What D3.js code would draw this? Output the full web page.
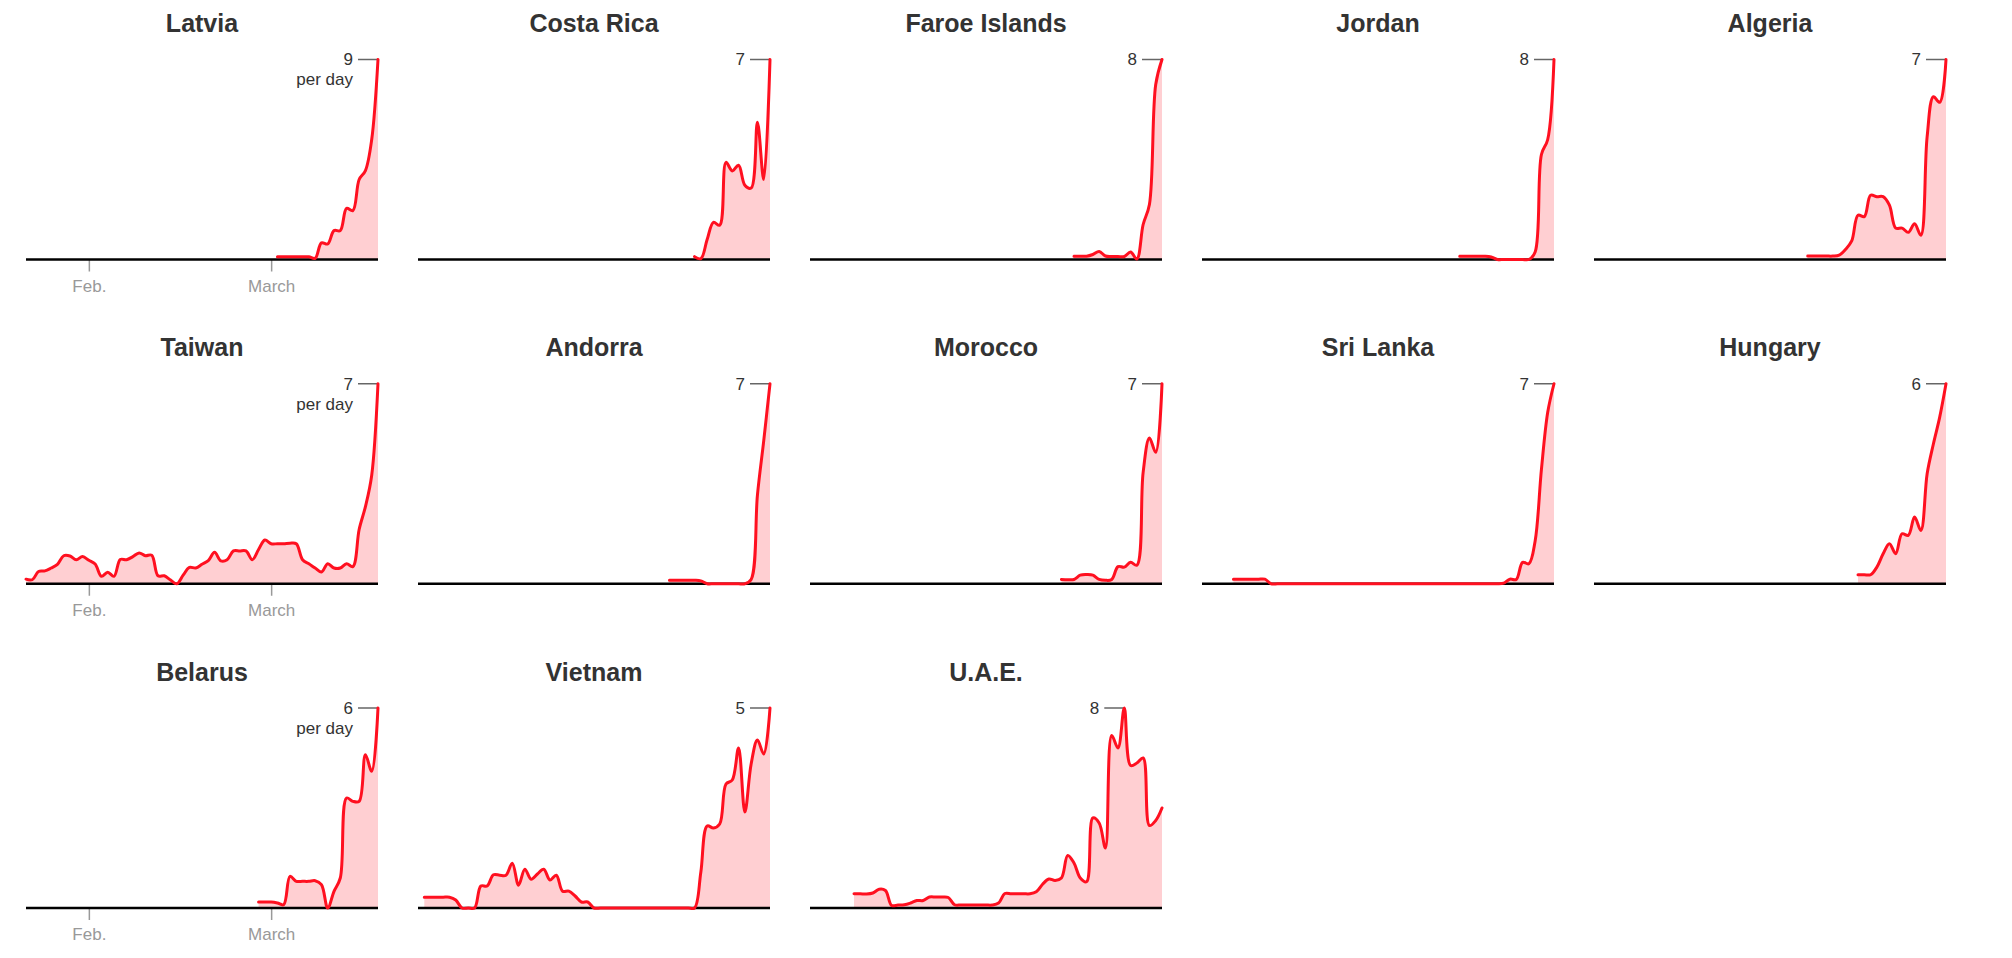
<!DOCTYPE html>
<html>
<head>
<meta charset="utf-8">
<script src="https://cdn.jsdelivr.net/npm/d3@7"></script>
<style>
  html, body { margin: 0; padding: 0; background: #fff; }
  svg { display: block; font-family: "Liberation Sans", Arial, sans-serif; }
</style>
</head>
<body>
<div id="small_multiples"></div>
<script>
// Countries, in reading order
const countries = ['Latvia', 'Costa Rica', 'Faroe Islands', 'Jordan', 'Algeria',
  'Taiwan', 'Andorra', 'Morocco', 'Sri Lanka', 'Hungary',
  'Belarus', 'Vietnam', 'U.A.E.']

// Day (counted from Jan. 22) of the first value of each series
const firstDay = [40, 44, 42, 41, 34, 0, 40, 40, 5, 42, 37, 1, 7]

// Daily values, one array per country
const latvia = [0.12, 0.12, 0.12, 0.12, 0.12, 0.12, 0.05, 0.75, 0.7, 1.3, 1.3, 2.3, 2.2, 3.6, 4.0, 5.4, 9]
const costaRica = [0.1, 0.03, 0.7, 1.3, 1.2, 3.4, 3.1, 3.3, 2.6, 2.5, 4.8, 2.8, 7]
const faroeIslands = [0.13, 0.13, 0.13, 0.2, 0.32, 0.14, 0.12, 0.12, 0.12, 0.3, 0.02, 1.4, 2.2, 7.0, 8]
const jordan = [0.13, 0.13, 0.13, 0.13, 0.13, 0.1, 0, 0, 0, 0, 0, 0, 0.3, 4.2, 4.8, 8]
const algeria = [0.12, 0.12, 0.12, 0.12, 0.12, 0.15, 0.35, 0.65, 1.55, 1.5, 2.25, 2.2, 2.2, 1.9,
  1.1, 1.1, 0.95, 1.25, 0.85, 4.3, 5.7, 5.5, 7]
const taiwan = [0.16, 0.14, 0.43, 0.45, 0.55, 0.68, 0.98, 0.97, 0.84, 0.95,
  0.82, 0.69, 0.26, 0.4, 0.26, 0.85, 0.84, 0.95, 1.08, 0.98,
  1.0, 0.28, 0.28, 0.13, 0, 0.3, 0.57, 0.55, 0.68, 0.81,
  1.1, 0.8, 0.84, 1.15, 1.15, 1.15, 0.84, 1.2, 1.53, 1.4,
  1.4, 1.4, 1.42, 1.4, 0.84, 0.7, 0.55, 0.41, 0.7, 0.55,
  0.55, 0.7, 0.6, 1.9, 2.7, 3.8, 7]
const andorra = [0.12, 0.12, 0.12, 0.12, 0.12, 0.1, 0, 0, 0, 0, 0, 0, 0, 0.15, 3.1, 5.0, 7]
const morocco = [0.15, 0.14, 0.15, 0.3, 0.32, 0.3, 0.15, 0.12, 0.15, 0.6, 0.58, 0.75, 0.65, 3.9, 5.1, 4.6, 7]
const sriLanka = [0.16, 0.16, 0.16, 0.16, 0.16, 0.16,
  0, 0, 0, 0, 0, 0, 0, 0, 0, 0, 0, 0, 0, 0, 0, 0, 0, 0, 0, 0,
  0, 0, 0, 0, 0, 0, 0, 0, 0, 0, 0, 0, 0, 0, 0, 0, 0,
  0.02, 0.16, 0.15, 0.75, 0.7, 1.5, 4.0, 6.0, 7]
const hungary = [0.27, 0.27, 0.27, 0.5, 0.9, 1.2, 0.9, 1.5, 1.45, 2.0, 1.6, 3.3, 4.2, 5.0, 6]
const belarus = [0.18, 0.18, 0.18, 0.15, 0.1, 0.95, 0.8, 0.8, 0.8, 0.82, 0.7, 0, 0.5, 0.9,
  3.3, 3.2, 3.2, 4.6, 4.1, 6]
const vietnam = [0.27, 0.27, 0.27, 0.27, 0.27, 0.2, 0, 0, 0,
  0.55, 0.55, 0.83, 0.82, 0.82, 1.12, 0.57, 0.97, 0.72, 0.85, 0.97, 0.7, 0.82, 0.42, 0.42, 0.3, 0.15, 0.15, 0,
  0, 0, 0, 0, 0, 0, 0, 0, 0, 0, 0, 0, 0, 0, 0, 0,
  0.9, 2.05, 2.0, 2.1, 3.1, 3.2, 4.0, 2.4, 3.6, 4.2, 3.85, 5]
const uae = [0.57, 0.57, 0.56, 0.6, 0.75, 0.7, 0.1, 0.12, 0.13, 0.2,
  0.3, 0.3, 0.44, 0.44, 0.44, 0.42, 0.13, 0.12, 0.12, 0.12,
  0.12, 0.12, 0.12, 0.2, 0.58, 0.57, 0.57, 0.57, 0.57, 0.65,
  0.95, 1.16, 1.1, 1.2, 2.1, 1.8, 1.2, 1.05, 3.6, 3.4,
  2.4, 6.9, 6.4, 8, 5.7, 5.8, 6.0, 3.3, 3.5, 4.0]

const series = [latvia, costaRica, faroeIslands, jordan, algeria,
  taiwan, andorra, morocco, sriLanka, hungary,
  belarus, vietnam, uae]

// Date range and x-axis ticks
const dateRange = ['2020-01-22', '2020-03-18']
const tickDates = ['2020-02-01', '2020-03-01']
const tickLabels = ['Feb.', 'March']
const unitLabel = 'per day'

;(() => {
  // Vars for dimensions
  const width = 2012
  const height = 958
  const left = 26
  const top = 59.5
  const colStep = 392
  const rowStep = 324.25
  const plotW = 352
  const plotH = 200
  const red = '#ff1020'

  const parse = d3.timeParse('%Y-%m-%d')
  const start = parse(dateRange[0])

  const svg = d3.select('#small_multiples')
    .append('svg')
    .attr('width', width)
    .attr('height', height)

  const x = d3.scaleTime()
    .domain(dateRange.map(parse))
    .range([0, plotW])

  countries.forEach((name, k) => {
    const col = k % 5
    const row = Math.floor(k / 5)
    const data = series[k].map((v, i) => ({
      date: d3.timeDay.offset(start, firstDay[k] + i),
      value: v
    }))
    const maxVal = d3.max(data, d => d.value)
    const peak = data.find(d => d.value === maxVal)

    const y = d3.scaleLinear()
      .domain([0, maxVal])
      .range([plotH, 0])

    const g = svg.append('g')
      .attr('transform', `translate(${left + col * colStep}, ${top + row * rowStep})`)

    // Title
    g.append('text')
      .attr('x', plotW / 2)
      .attr('y', -27.5)
      .attr('text-anchor', 'middle')
      .attr('fill', '#333')
      .style('font-size', '25px')
      .style('font-weight', 700)
      .text(name)

    // Shaded area under the line
    const area = d3.area()
      .x(d => x(d.date))
      .y0(y(0))
      .y1(d => y(d.value))
      .curve(d3.curveCatmullRom)

    g.append('path')
      .datum(data)
      .attr('fill', red)
      .attr('fill-opacity', 0.2)
      .attr('d', area)

    // Bottom axis (labels only in the first column)
    if (col === 0) {
      const ax = g.append('g')
        .attr('transform', `translate(0, ${plotH})`)
        .call(
          d3.axisBottom(x)
            .tickValues(tickDates.map(parse))
            .tickFormat((d, i) => tickLabels[i])
            .tickSize(12)
            .tickPadding(8)
        )
      ax.select('.domain').remove()
      ax.selectAll('line').attr('stroke', '#999').attr('stroke-width', 1.5)
      ax.selectAll('text')
        .attr('fill', '#999')
        .style('font-size', '17px')
        .style('font-family', '"Liberation Sans", Arial, sans-serif')
    }

    // Baseline
    g.append('line')
      .attr('x1', 0)
      .attr('x2', plotW)
      .attr('y1', y(0))
      .attr('y2', y(0))
      .attr('stroke', '#000')
      .attr('stroke-width', 2.5)

    // Peak annotation
    const px = x(peak.date)
    const py = y(peak.value)
    g.append('line')
      .attr('x1', px - 20)
      .attr('x2', px)
      .attr('y1', py)
      .attr('y2', py)
      .attr('stroke', '#666')
      .attr('stroke-width', 1.5)

    g.append('text')
      .attr('x', px - 25)
      .attr('y', py)
      .attr('dy', '0.35em')
      .attr('text-anchor', 'end')
      .attr('fill', '#333')
      .style('font-size', '17px')
      .text(d3.format('d')(Math.round(maxVal)))

    if (col === 0) {
      g.append('text')
        .attr('x', px - 25)
        .attr('y', py + 20)
        .attr('dy', '0.35em')
        .attr('text-anchor', 'end')
        .attr('fill', '#333')
        .style('font-size', '17px')
        .text(unitLabel)
    }

    // The line itself
    const line = d3.line()
      .x(d => x(d.date))
      .y(d => y(d.value))
      .curve(d3.curveCatmullRom)

    g.append('path')
      .datum(data)
      .attr('fill', 'none')
      .attr('stroke', red)
      .attr('stroke-width', 3)
      .attr('stroke-linejoin', 'round')
      .attr('stroke-linecap', 'round')
      .attr('d', line)
  })
})()
</script>
</body>
</html>
